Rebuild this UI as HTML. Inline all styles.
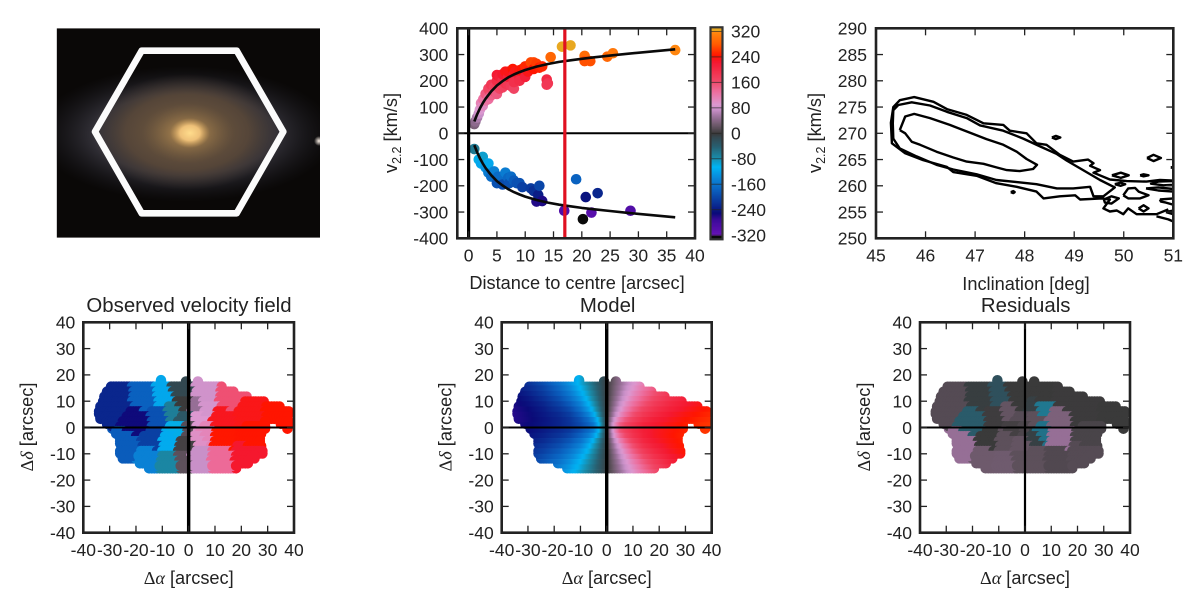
<!DOCTYPE html>
<html lang="en">
<head>
<meta charset="utf-8">
<title>Galaxy kinematics figure</title>
<style>
html,body{margin:0;padding:0;background:#fff;}
svg{display:block;font-family:"Liberation Sans",sans-serif;}
text{fill:#222;}
.tick-label{font-size:17.5px;}
.axis-label{font-size:18.2px;}
.panel-title{font-size:20.4px;}
</style>
</head>
<body>
<svg id="figure" xmlns="http://www.w3.org/2000/svg" width="1200" height="606" viewBox="0 0 1200 606">
  <defs>
    <radialGradient id="g-disc"><stop offset="0" stop-color="#4a4648"/><stop offset=".6" stop-color="#38363e" stop-opacity=".9"/><stop offset="1" stop-color="#1c1c24" stop-opacity="0"/></radialGradient>
    <radialGradient id="g-bulge"><stop offset="0" stop-color="#7a6040"/><stop offset=".65" stop-color="#5a4838" stop-opacity=".85"/><stop offset="1" stop-color="#443a34" stop-opacity="0"/></radialGradient>
    <radialGradient id="g-core"><stop offset="0" stop-color="#c49858"/><stop offset="1" stop-color="#7a6040" stop-opacity="0"/></radialGradient>
    <radialGradient id="g-nucleus"><stop offset="0" stop-color="#ffdc8c"/><stop offset=".5" stop-color="#eec078"/><stop offset="1" stop-color="#c49858" stop-opacity="0"/></radialGradient>
    <radialGradient id="g-star"><stop offset="0" stop-color="#fff4ea"/><stop offset="1" stop-color="#fff4ea" stop-opacity="0"/></radialGradient>
    <clipPath id="clip-image"><rect x="56.7" y="28.3" width="263.3" height="209.4"/></clipPath>
    <clipPath id="clip-incl"><rect x="876" y="28.3" width="297.3" height="210"/></clipPath>
    <clipPath id="clip-obs"><rect x="83.3" y="322.3" width="210.7" height="210.4"/></clipPath>
    <clipPath id="clip-model-plot"><rect x="501.7" y="322.3" width="210" height="210.4"/></clipPath>
    <clipPath id="clip-res"><rect x="920" y="322.3" width="210" height="210.4"/></clipPath>
    <clipPath id="clip-model-mask"></clipPath>
  </defs>

  <g clip-path="url(#clip-image)">
    <rect x="56.7" y="28.3" width="263.3" height="209.4" fill="#0a0807"/>
    <ellipse cx="185" cy="134" rx="150" ry="68" fill="url(#g-disc)"/>
    <ellipse cx="187" cy="132" rx="95" ry="58" fill="url(#g-bulge)"/>
    <ellipse cx="188" cy="133" rx="46" ry="30" fill="url(#g-core)"/>
    <ellipse cx="190" cy="133" rx="20" ry="15" fill="url(#g-nucleus)"/>
    <circle cx="319" cy="141" r="5" fill="url(#g-star)"/>
    <polygon points="95,131.7 141.7,50.7 236.7,50.7 283.3,131.7 236.7,213.3 141.7,213.3" fill="none" stroke="#fbfbfb" stroke-width="6.6" stroke-linejoin="round"/>
  </g>

  <g id="vel-panel"></g>
  <g id="cbar"></g>
  <g id="incl-panel"></g>
  <g id="obs-panel"></g>
  <g id="model-panel"></g>
  <g id="res-panel"></g>

  <g>
    <text class="axis-label" x="577" y="289" text-anchor="middle">Distance to centre [arcsec]</text>
    <text class="axis-label" transform="translate(397 133) rotate(-90)" text-anchor="middle">v<tspan font-size="12.5" dy="4">2.2</tspan><tspan dy="-4"> [km/s]</tspan></text>
    <text class="axis-label" x="1026" y="290" text-anchor="middle">Inclination [deg]</text>
    <text class="axis-label" transform="translate(821 133) rotate(-90)" text-anchor="middle">v<tspan font-size="12.5" dy="4">2.2</tspan><tspan dy="-4"> [km/s]</tspan></text>

    <text class="panel-title" x="189" y="312" text-anchor="middle">Observed velocity field</text>
    <text class="panel-title" x="607.7" y="312" text-anchor="middle">Model</text>
    <text class="panel-title" x="1025.7" y="312" text-anchor="middle">Residuals</text>

    <text class="axis-label" x="188.7" y="584" text-anchor="middle"><tspan font-family="Liberation Serif">Δ</tspan><tspan font-family="Liberation Serif" font-style="italic">α</tspan> [arcsec]</text>
    <text class="axis-label" x="606.7" y="584" text-anchor="middle"><tspan font-family="Liberation Serif">Δ</tspan><tspan font-family="Liberation Serif" font-style="italic">α</tspan> [arcsec]</text>
    <text class="axis-label" x="1025" y="584" text-anchor="middle"><tspan font-family="Liberation Serif">Δ</tspan><tspan font-family="Liberation Serif" font-style="italic">α</tspan> [arcsec]</text>
    <text class="axis-label" transform="translate(33 427) rotate(-90)" text-anchor="middle"><tspan font-family="Liberation Serif">Δ</tspan><tspan font-family="Liberation Serif" font-style="italic">δ</tspan> [arcsec]</text>
    <text class="axis-label" transform="translate(451.5 427) rotate(-90)" text-anchor="middle"><tspan font-family="Liberation Serif">Δ</tspan><tspan font-family="Liberation Serif" font-style="italic">δ</tspan> [arcsec]</text>
    <text class="axis-label" transform="translate(870 427) rotate(-90)" text-anchor="middle"><tspan font-family="Liberation Serif">Δ</tspan><tspan font-family="Liberation Serif" font-style="italic">δ</tspan> [arcsec]</text>
  </g>
</svg>

<script>
// ---------- tick labels ----------
const distanceTicks = [0,5,10,15,20,25,30,35,40];
const velocityTicks = [-400,-300,-200,-100,0,100,200,300,400];
const colorbarTicks = [-320,-240,-160,-80,0,80,160,240,320];
const inclinationTicks = [45,46,47,48,49,50,51];
const v22Ticks = [250,255,260,265,270,275,280,285,290];
const skyTicks = [-40,-30,-20,-10,0,10,20,30,40];

// ---------- rotation curve scatter: radius [arcsec], velocity [km/s] ----------
const approachingR = [1,1.8,2.2,2.5,3,3.5,3.5,4,4.5,5,5.2,6,6,6.5,7,7.2,7.5,8,8.5,9,9.5,11,11.5,12,12.3,12.5,13,16.9,19,20.2,20.7,21.7,22.8,28.6];
const approachingV = [-60,-100,-115,-90,-130,-150,-115,-165,-145,-190,-165,-165,-195,-150,-170,-190,-165,-180,-190,-190,-205,-210,-220,-260,-235,-200,-258,-295,-175,-327,-243,-302,-228,-295];
const recedingR = [1,1.2,1.5,1.8,2,2.2,2.5,2.6,3,3,3.5,3.6,3.5,4,4,4,4.5,4.5,5,5,5,5,5.5,5.5,6,6,6,6.5,6.5,7,7,7,7.5,7.8,8,8,8,8.2,9,9,9,9.5,10,10,10.5,11,11.5,11.5,12,12.5,13,13.8,14,13.8,14.5,16.5,18,20.5,20.5,21.5,24.5,25.5,36.5];
const recedingV = [35,45,60,75,90,115,105,130,125,150,130,165,170,145,170,185,160,175,150,180,200,222,170,215,175,200,225,235,190,185,215,235,180,245,225,170,195,235,215,240,200,245,215,255,235,270,270,245,265,250,255,205,190,185,290,330,335,295,275,275,292,305,317];
const curveR = [1,1.5,2,2.5,3,4,5,6,7,8,9,10,12,14,16,18,20,22,25,28,32,36.5];
const curveV = [45,72,95,115,132,160,182,199,213,224,233,241,254,264,272,278,284,289,296,303,311,320];
const markerDistance = [17];

// ---------- inclination / velocity contours: [deg, km/s] ----------
const contourInner = [[45.48,270.6],[45.59,273.2],[45.77,273.7],[46.09,272.9],[46.49,271.6],[46.9,270.1],[47.23,268.9],[47.57,267.8],[47.84,266.5],[48.04,265.1],[48.25,264],[48.17,263.2],[47.9,262.8],[47.64,263],[47.43,263.5],[47.17,264.2],[46.83,264.6],[46.56,265.4],[46.22,266.5],[45.89,267.8],[45.72,268.4],[45.59,270],[45.48,270.6]];
const contourMiddle = [[45.35,274.4],[45.45,275.4],[45.72,275.9],[46.09,275.3],[46.43,274.1],[46.83,272.9],[47.1,271.5],[47.57,270.5],[47.97,269],[48.31,267.5],[48.64,266.1],[48.85,264.8],[49.18,263],[49.52,261.1],[49.82,259.7],[49.59,258],[49.39,258],[49.32,259.8],[48.98,259.5],[48.65,259.5],[48.24,260.3],[47.84,260.7],[47.43,261.1],[47.03,262.2],[46.56,263.1],[46.22,264],[45.82,265.6],[45.48,267.1],[45.35,269],[45.34,271.9],[45.35,274.4]];
const contourOuter = [[51,261],[50.73,261.1],[50.46,260.8],[50.06,260.9],[49.72,261.2],[49.39,262.5],[49.52,263],[49.32,263.8],[49.39,264.3],[49.28,265],[48.98,264.6],[48.71,265.9],[48.44,267.8],[48.24,268.1],[48.04,270],[47.7,270.5],[47.57,271.6],[47.17,271.9],[46.83,273.5],[46.43,274.6],[46.16,276],[45.77,276.9],[45.48,276.3],[45.35,275],[45.3,272],[45.32,268.1],[45.59,266.2],[45.95,264.9],[46.43,263.6],[46.56,262.6],[47.03,261.9],[47.43,260.5],[47.84,259.8],[48.24,258.9],[48.38,257.6],[48.71,258],[49.02,258.2],[49.12,257.4],[49.55,257.6],[49.72,257.4],[49.59,255.7],[49.72,255.1],[49.86,255.3],[49.99,254.6],[50.09,255.7],[50.26,254.6],[50.66,254.6],[50.9,255.5]];
const contourEdge = [[50.66,254.2],[50.9,253.6],[51,253.2]];
const contourIslands = [
  [[48.55,269.2],[48.63,269.5],[48.72,269.2],[48.63,268.9],[48.55,269.2]],
  [[47.72,258.8],[47.77,259],[47.8,258.8],[47.77,258.6],[47.72,258.8]],
  [[50.47,265.3],[50.6,265.9],[50.75,265.3],[50.6,264.7],[50.47,265.3]],
  [[49.76,262],[49.94,262.5],[50.1,262],[49.94,261.5],[49.76,262]],
  [[50.33,262],[50.4,262.2],[50.5,262],[50.4,261.8],[50.33,262]],
  [[49.82,260.3],[49.94,260.6],[50.03,260.3],[49.94,260],[49.82,260.3]],
  [[49.6,257.4],[49.75,258],[49.9,257.6],[49.75,256.6],[49.62,256.8],[49.6,257.4]],
  [[49.99,258.2],[50.09,259.5],[50.23,259.6],[50.3,258.9],[50.5,258.2],[50.33,257.6],[50.09,257.6],[49.99,258.2]],
  [[50.3,255.7],[50.4,256.3],[50.5,255.7],[50.4,255.1],[50.3,255.7]],
  [[50.7,260.8],[51,260.9],[51,260.2],[50.8,260.1],[50.55,260.4],[50.7,260.8]],
  [[50.45,259.5],[50.7,259.7],[51,259.4],[51,258.9],[50.7,259.1],[50.45,259.5]],
  [[50.73,257.4],[51,257.6],[51,256.4],[50.85,256.8],[50.75,257],[50.73,257.4]],
  [[50.85,255],[51,255.3],[51,254.6],[50.85,255]],
  [[50.95,263.5],[51.05,263.7],[51.05,263.2],[50.95,263.5]]
];

// ---------- Voronoi bins of the observed field [arcsec, km/s] ----------
const binX = [-28,-17.8,-15.3,-9.6,-2.7,-4.5,-11.5,-23.5,-13.4,-6.5,-15.3,-6.5,-1.6,4.3,11.9,22.7,13.5,24,3.7,23,16.3,6.8,3.5,7,4.3,34.7,-1.2,-1,-3,0.5,6.3,12.5,-0.5];
const binY = [9.5,1,10.5,11.5,13.5,5.5,3,-8,-4,-5.3,-13,-13.8,-13.5,-12.3,-12.3,-11,-4,-3.5,-4,5,10.5,12.4,7,6.5,2.5,5,8,3,-1,-1,-2,2.5,-7.5];
const observedV = [-228,-252,-176,-115,-12,-65,-190,-180,-205,-112,-145,-72,18,76,135,226,246,245,100,235,158,82,50,85,92,245,0,-30,-100,15,110,232,5];
const residualV = [14,-35,-3,-22,0,22,2,50,0,18,27,28,18,18,12,14,50,8,-5,1,1,0,-5,-60,18,0,0,15,5,10,-55,35,22];

// ---------- footprint of the field: row centre, left and right edge [arcsec] ----------
const footprintY = [16,14,12,10,8,6,4,2,2,0,0,-2,-2,-4,-6,-8,-10,-12,-14,-16];
const footprintMin = [-31.5,-33,-34,-34.5,-35.5,-36,-35.5,-33,33,-31,35.5,-29.5,37.5,-28,-28,-27.5,-28,-27,-20.5,-17];
const footprintMax = [15,19,24,31,37,40,40,31,40,31,40,29.5,40,29,29.5,30,30,27.5,25,20.5];
const bumpX = [-10.5,-1,3.5];
const bumpY = [18,17.5,17.5];

// ---------- model field: velocity [km/s] for each row (modelY) and column (modelX) ----------
const modelX = [-36,-30,-24,-18,-14,-10,-7,-5,-3,-1,1,3,5,7,10,14,18,24,30,36,40];
const modelY = [17,15,13,11,9,7,5,3,1,-1,-3,-5,-7,-9,-11,-13,-15,-17];
const modelRow17 = [-236,-218,-192,-158,-130,-96,-68,-49,-29,-10,10,29,47,64,88,116,140,168,191,209,218];
const modelRow15 = [-242,-225,-202,-169,-140,-105,-76,-54,-33,-11,11,32,51,70,95,125,148,177,199,216,226];
const modelRow13 = [-248,-233,-211,-180,-152,-116,-84,-61,-37,-12,12,35,57,78,104,134,159,187,207,223,232];
const modelRow11 = [-253,-240,-220,-192,-165,-129,-95,-69,-42,-14,14,40,64,86,115,145,169,195,215,229,238];
const modelRow9 = [-257,-245,-229,-204,-180,-145,-108,-80,-49,-16,16,46,74,99,128,157,181,205,223,236,244];
const modelRow7 = [-260,-250,-235,-215,-195,-160,-124,-93,-58,-20,19,55,85,112,143,172,193,214,230,243,250];
const modelRow5 = [-262,-252,-239,-224,-207,-177,-144,-113,-72,-24,24,66,101,128,159,186,204,224,238,249,255];
const modelRow3 = [-262,-253,-242,-229,-215,-191,-164,-136,-94,-33,32,86,123,150,175,200,216,231,244,254,259];
const modelRow1 = [-260,-251,-241,-229,-217,-197,-176,-155,-107,-37,39,103,147,168,190,212,224,237,248,258,262];
const modelRowM1 = [-258,-248,-237,-224,-212,-190,-168,-147,-103,-39,37,107,155,176,197,217,229,241,251,260,262];
const modelRowM3 = [-254,-244,-231,-216,-200,-175,-150,-123,-86,-32,33,94,136,164,191,215,229,242,253,262,264];
const modelRowM5 = [-249,-238,-224,-204,-186,-159,-128,-101,-66,-24,24,72,113,144,177,207,224,239,252,262,265];
const modelRowM7 = [-243,-230,-214,-193,-172,-143,-112,-85,-55,-19,20,58,93,124,160,195,215,235,250,260,263];
const modelRowM9 = [-236,-223,-205,-181,-157,-128,-99,-74,-46,-16,16,49,80,108,145,180,204,229,245,257,260];
const modelRowM11 = [-229,-215,-195,-169,-145,-115,-86,-64,-40,-14,14,42,69,95,129,165,192,220,240,253,257];
const modelRowM13 = [-223,-207,-187,-159,-134,-104,-78,-57,-35,-12,12,37,61,84,116,152,180,211,233,248,252];
const modelRowM15 = [-216,-199,-177,-148,-125,-95,-70,-51,-32,-11,11,33,54,76,105,140,169,202,225,242,246];
const modelRowM17 = [-209,-191,-168,-140,-116,-88,-64,-47,-29,-10,10,29,49,68,96,130,158,192,218,236,240];
const modelV = [modelRow17,modelRow15,modelRow13,modelRow11,modelRow9,modelRow7,modelRow5,modelRow3,modelRow1,modelRowM1,modelRowM3,modelRowM5,modelRowM7,modelRowM9,modelRowM11,modelRowM13,modelRowM15,modelRowM17];

// ---------- helpers ----------
const NS = 'http://www.w3.org/2000/svg';
function make(parent, tag, attrs) {
  const e = document.createElementNS(NS, tag);
  for (const k in attrs) e.setAttribute(k, attrs[k]);
  parent.appendChild(e);
  return e;
}
function scale(d0, d1, p0, p1) {
  return function (v) { return p0 + (v - d0) * (p1 - p0) / (d1 - d0); };
}
const cmapLevels = [-322,-270,-250,-225,-175,-140,-105,-75,-40,-10,0,25,50,75,92,130,165,225,245,280,320];
const cmapColors = ['#6a12b8','#3a0a98','#0a0a78','#0a2a90','#0a62c0','#0a86d8','#00b4f4','#1a8aa8','#285f70','#34464e','#3a3a3a','#6a5868','#966f96','#c890c8','#dc98d0','#ec70a0','#f04868','#f41830','#ff1500','#ff5a00','#ff8a10'];
function rgbOf(hex) {
  return [parseInt(hex.slice(1,3),16), parseInt(hex.slice(3,5),16), parseInt(hex.slice(5,7),16)];
}
function cmap(v) {
  if (v < cmapLevels[0]) return '#0a0a0a';
  if (v > cmapLevels[cmapLevels.length - 1]) return '#e8a820';
  for (let i = 1; i < cmapLevels.length; i++) {
    if (v <= cmapLevels[i]) {
      const t = (v - cmapLevels[i-1]) / (cmapLevels[i] - cmapLevels[i-1]);
      const a = rgbOf(cmapColors[i-1]);
      const b = rgbOf(cmapColors[i]);
      return 'rgb(' + Math.round(a[0]+(b[0]-a[0])*t) + ',' + Math.round(a[1]+(b[1]-a[1])*t) + ',' + Math.round(a[2]+(b[2]-a[2])*t) + ')';
    }
  }
  return cmapColors[0];
}
function tickLabel(parent, x, y, txt, anchor) {
  const t = make(parent, 'text', {x: x, y: y, dy: '.36em', 'text-anchor': anchor, 'class': 'tick-label'});
  t.textContent = txt;
  
  
  return t;
}
function drawAxes(parent, box, xs, ys, xTicks, yTicks, yRight) {
  const g = make(parent, 'g', {stroke: '#222', 'stroke-width': 1.3, fill: 'none'});
  
  
  xTicks.forEach(function (v) {
    [[box.b, box.b - 7], [box.t, box.t + 7]].forEach(function (p) {
      const l = make(g, 'line', {x1: xs(v), x2: xs(v), y1: p[0], y2: p[1]});
      
      
    });
    tickLabel(parent, xs(v), box.b + 17, String(v), 'middle');
  });
  yTicks.forEach(function (v) {
    [[box.l, box.l + 7], [box.r, box.r - 7]].forEach(function (p) {
      const l = make(g, 'line', {x1: p[0], x2: p[1], y1: ys(v), y2: ys(v)});
      
      
    });
    tickLabel(parent, box.l - yRight, ys(v), String(v), 'end');
  });
  const f = make(parent, 'rect', {x: box.l, y: box.t, width: box.r - box.l, height: box.b - box.t, fill: 'none', stroke: '#222', 'stroke-width': 2.6});
  
  
}
function hLine(parent, box, y, w, col, name) {
  const l = make(parent, 'line', {x1: box.l, x2: box.r, y1: y, y2: y, stroke: col, 'stroke-width': w});
  
  
}
function vLine(parent, box, x, w, col, name) {
  const l = make(parent, 'line', {x1: x, x2: x, y1: box.t, y2: box.b, stroke: col, 'stroke-width': w});
  
  
}
function pathOf(pts, xs, ys) {
  return pts.map(function (p, i) { return (i ? 'L' : 'M') + xs(p[0]).toFixed(1) + ' ' + ys(p[1]).toFixed(1); }).join('');
}

// ---------- rotation curve panel ----------
(function () {
  const root = document.getElementById('vel-panel');
  const box = {l: 457.3, r: 695, t: 28.3, b: 238.3};
  const xs = scale(-2, 40, box.l, box.r);
  const ys = scale(-400, 400, box.b, box.t);
  recedingR.forEach(function (r, i) {
    const c = make(root, 'circle', {cx: xs(r), cy: ys(recedingV[i]), r: 5.3, fill: cmap(recedingV[i])});
    
    
  });
  approachingR.forEach(function (r, i) {
    const c = make(root, 'circle', {cx: xs(r), cy: ys(approachingV[i]), r: 5.3, fill: cmap(approachingV[i])});
    
    
  });
  const up = make(root, 'path', {d: pathOf(curveR.map(function (r, i) { return [r, curveV[i]]; }), xs, ys), fill: 'none', stroke: '#0a0a0a', 'stroke-width': 2.6, 'stroke-linejoin': 'round'});
  
  
  const dn = make(root, 'path', {d: pathOf(curveR.map(function (r, i) { return [r, -curveV[i]]; }), xs, ys), fill: 'none', stroke: '#0a0a0a', 'stroke-width': 2.6, 'stroke-linejoin': 'round'});
  
  
  hLine(root, box, ys(0), 2, '#000', 'zero-velocity-line');
  vLine(root, box, xs(0), 3.2, '#000', 'zero-distance-line');
  vLine(root, box, xs(markerDistance[0]), 3.2, '#e01020', 'r22-marker-line');
  drawAxes(root, box, xs, ys, distanceTicks, velocityTicks, 9);
})();

// ---------- colourbar ----------
(function () {
  const root = document.getElementById('cbar');
  const box = {l: 710.5, r: 722.5, t: 27.3, b: 239.3};
  const ys = scale(-333, 333, box.b, box.t);
  for (let v = -333; v < 333; v += 3) {
    const r = make(root, 'rect', {x: box.l, y: ys(v + 3), width: box.r - box.l, height: ys(v) - ys(v + 3) + 0.4, fill: cmap(v + 1.5)});
    
    
  }
  colorbarTicks.forEach(function (v) {
    const l = make(root, 'line', {x1: box.l, x2: box.r, y1: ys(v), y2: ys(v), stroke: '#222', 'stroke-width': 0.9, 'stroke-opacity': 0.7});
    
    
    tickLabel(root, 731, ys(v), String(v), 'start');
  });
  const f = make(root, 'rect', {x: box.l, y: box.t, width: box.r - box.l, height: box.b - box.t, fill: 'none', stroke: '#333', 'stroke-width': 2.2});
  
  
})();

// ---------- contour panel ----------
(function () {
  const root = document.getElementById('incl-panel');
  const box = {l: 876, r: 1173.3, t: 28.3, b: 238.3};
  const xs = scale(45, 51, box.l, box.r);
  const ys = scale(250, 290, box.b, box.t);
  const g = make(root, 'g', {'clip-path': 'url(#clip-incl)', fill: 'none', stroke: '#000', 'stroke-width': 2.4, 'stroke-linejoin': 'round'});
  
  
  const inner = make(g, 'path', {d: pathOf(contourInner, xs, ys)});
  
  
  const mid = make(g, 'path', {d: pathOf(contourMiddle, xs, ys)});
  
  
  const outer = make(g, 'path', {d: pathOf(contourOuter, xs, ys)});
  
  
  const edge = make(g, 'path', {d: pathOf(contourEdge, xs, ys)});
  
  
  contourIslands.forEach(function (pts) {
    const p = make(g, 'path', {d: pathOf(pts, xs, ys)});
    
    
  });
  drawAxes(root, box, xs, ys, inclinationTicks, v22Ticks, 9);
})();

// ---------- sky maps ----------
const CELL_R = 2;
const ROW_SQUEEZE = 0.94;
function footprintCells(each) {
  footprintY.forEach(function (y, k) {
    [y - 0.5, y + 0.5].forEach(function (cy) {
      for (let x = footprintMin[k] + CELL_R; x <= footprintMax[k] - CELL_R + 0.01; x += 1) {
        each(x, cy * ROW_SQUEEZE, CELL_R);
      }
    });
  });
  bumpX.forEach(function (x, i) { each(x, bumpY[i], 2); });
}
function nearestBin(x, y) {
  let best = 0, bd = Infinity;
  binX.forEach(function (bx, i) {
    const d = (bx - x) * (bx - x) + (binY[i] - y) * (binY[i] - y);
    if (d < bd) { bd = d; best = i; }
  });
  return best;
}
function binnedMap(rootId, box, clipId, values, vertW) {
  const root = document.getElementById(rootId);
  const xs = scale(-40, 40, box.l, box.r);
  const ys = scale(-40, 40, box.b, box.t);
  const pxPerArcsec = (box.r - box.l) / 80;
  const g = make(root, 'g', {'clip-path': 'url(#' + clipId + ')'});
  
  
  footprintCells(function (x, y, r) {
    const c = make(g, 'circle', {cx: xs(x).toFixed(1), cy: ys(y).toFixed(1), r: (r * pxPerArcsec).toFixed(2), fill: cmap(values[nearestBin(x, y)])});
    
    
  });
  hLine(root, box, ys(0), 2, '#000', 'zero-declination-line');
  vLine(root, box, xs(0), vertW, '#000', 'zero-right-ascension-line');
  drawAxes(root, box, xs, ys, skyTicks, skyTicks, 8);
}
binnedMap('obs-panel', {l: 83.3, r: 294, t: 322.3, b: 532.7}, 'clip-obs', observedV, 3.4);
binnedMap('res-panel', {l: 920, r: 1130, t: 322.3, b: 532.7}, 'clip-res', residualV, 2.2);

(function () {
  const root = document.getElementById('model-panel');
  const box = {l: 501.7, r: 711.7, t: 322.3, b: 532.7};
  const xs = scale(-40, 40, box.l, box.r);
  const ys = scale(-40, 40, box.b, box.t);
  const pxPerArcsec = (box.r - box.l) / 80;
  const defs = document.querySelector('#figure defs');
  const clip = document.getElementById('clip-model-mask');
  footprintCells(function (x, y, r) {
    make(clip, 'circle', {cx: xs(x).toFixed(1), cy: ys(y).toFixed(1), r: (r * pxPerArcsec).toFixed(2)});
  });
  const outer = make(root, 'g', {'clip-path': 'url(#clip-model-plot)'});
  
  
  const g = make(outer, 'g', {'clip-path': 'url(#clip-model-mask)'});
  
  
  const xMin = modelX[0];
  const xMax = modelX[modelX.length - 1];
  modelY.forEach(function (y, r) {
    const gid = 'model-grad-' + r;
    const lg = make(defs, 'linearGradient', {id: gid, gradientUnits: 'userSpaceOnUse', x1: xs(xMin), x2: xs(xMax), y1: 0, y2: 0});
    const row = modelV[r];
    modelX.forEach(function (x, i) {
      const steps = i < modelX.length - 1 ? 4 : 1;
      for (let s = 0; s < steps; s++) {
        const nx = i < modelX.length - 1 ? modelX[i + 1] : x;
        const nv = i < modelX.length - 1 ? row[i + 1] : row[i];
        const px = x + (nx - x) * s / steps;
        const pv = row[i] + (nv - row[i]) * s / steps;
        make(lg, 'stop', {offset: ((px - xMin) / (xMax - xMin)).toFixed(4), 'stop-color': cmap(pv)});
      }
    });
    const top = r === 0 ? y + 4 : y + 1;
    const rect = make(g, 'rect', {x: xs(xMin) - 3 * pxPerArcsec, y: ys(top), width: xs(xMax) - xs(xMin) + 6 * pxPerArcsec, height: ys(y - 1) - ys(top) + 0.3, fill: 'url(#' + gid + ')'});
    
    
  });
  hLine(root, box, ys(0), 2, '#000', 'zero-declination-line');
  vLine(root, box, xs(0), 3.4, '#000', 'zero-right-ascension-line');
  drawAxes(root, box, xs, ys, skyTicks, skyTicks, 8);
})();
</script>
</body>
</html>
